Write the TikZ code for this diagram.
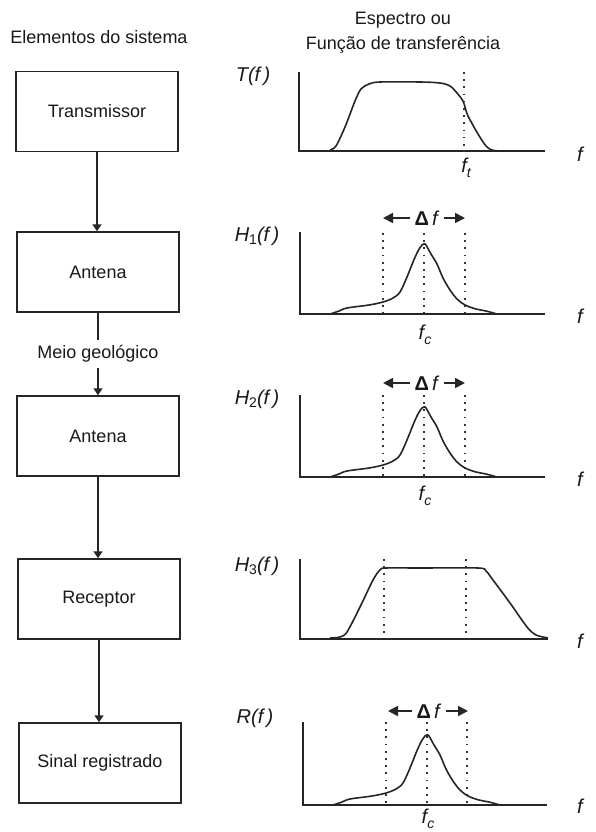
\documentclass[tikz,border=0pt]{standalone}
\usepackage{fontspec}
\setmainfont{Liberation Sans}
\usetikzlibrary{arrows.meta}
\newcommand{\lowsub}[2][4pt]{\raisebox{-#1}{\fontsize{14}{14}\selectfont #2}}
\begin{document}
\begin{tikzpicture}[x=1pt,y=-1pt,
  every node/.style={font=\fontsize{18}{21}\selectfont, inner sep=0pt, text=black!90},
  sysbox/.style={draw=black!85, line width=1.5pt, minimum width=162pt, minimum height=80pt},
  flow/.style={line width=1.6pt, draw=black!85, -{Triangle[width=9pt,length=7pt]}},
  axisline/.style={line width=2pt, draw=black!85},
  specline/.style={line width=1.6pt, draw=black!85},
  dotline/.style={line width=1.7pt, draw=black!80, dash pattern=on 1.7pt off 5.5pt},
  bw/.style={line width=1.8pt, draw=black!85, -{Triangle[width=10pt,length=10pt]}},
  lab/.style={font=\fontsize{20}{22}\selectfont\itshape},
  dflab/.style={font=\fontsize{20}{22}\selectfont, inner xsep=4pt},
  peak/.pic={\draw[specline] plot[smooth,tension=0.55] coordinates {(-94,0) (-85,-3) (-77,-6) (-55,-9) (-41,-12) (-31,-16) (-24,-22) (-17,-37) (-11,-52) (-6,-63) (-2,-69) (0,-70) (2,-69) (7,-60) (13,-50) (19,-36) (26,-24) (33,-15) (41,-9) (52,-5) (62,-3) (73,0)};}
]
\useasboundingbox (0,0) rectangle (595,832);
\fill[white] (0,0) rectangle (595,832);

% headers
\node (h1) at (99,37) {Elementos do sistema};
\node (h2) at (403,33) [align=center, font=\fontsize{18}{25}\selectfont] {Espectro ou\\Função de transferência};

% system boxes
\node[sysbox] (b1) at (97,111.5) {Transmissor};
\node[sysbox] (b2) at (98,272) {Antena};
\node[sysbox] (b3) at (98,436) {Antena};
\node[sysbox] (b4) at (99,599) {Receptor};
\node[sysbox] (b5) at (100,763) {Sinal registrado};

\draw[flow] (b1.south) -- (b1.south |- b2.north);
\draw[flow] (b2.south) -- (b2.south |- b3.north) node[midway, fill=white, inner xsep=3pt, inner ysep=6pt] (meio) {Meio geológico};
\draw[flow] (b3.south) -- (b3.south |- b4.north);
\draw[flow] (b4.south) -- (b4.south |- b5.north);

% plot 1: T(f)
\draw[dotline] (464,72) -- (464,151);
\draw[specline] plot[smooth, tension=0.5] coordinates {(330,150) (336,146) (345,127) (355,101) (361,89) (369,84) (380,82) (420,82) (440,83) (450,86) (457,93) (463,101) (465,107) (468,116) (478,134) (486,146) (492,150) (500,151)};
\draw[axisline] (299,72) -- (299,151) -- (545,151);
\node[lab] (t1) at (253,76) {T(f\,)};
\node[lab] (fx1) at (580,154) {f};
\node[lab] (ft) at (466,168) {f\lowsub[5pt]{t}};

% plot 2: H1(f)
\draw[dotline] (383,233) -- (383,314);
\draw[dotline] (424,233) -- (424,314);
\draw[dotline] (465,233) -- (465,314);
\pic at (424,314) {peak};
\draw[axisline] (300,232) -- (300,314) -- (545,314);
\node[dflab] (df1) at (427,218) {\textbf{Δ}\,\textit{f}};
\coordinate (l1) at (383,218);
\coordinate (r1) at (465,218);
\draw[bw] (df1.west) -- (l1);
\draw[bw] (df1.east) -- (r1);
\node[lab] (hl1) at (257,236) {H\lowsub[3pt]{\upshape 1}(f\,)};
\node[lab] (fx2) at (580,316) {f};
\node[lab] (fc1) at (425,335) {f\lowsub[5pt]{c}};

% plot 3: H2(f)
\draw[dotline] (383,395) -- (383,477);
\draw[dotline] (424,395) -- (424,477);
\draw[dotline] (465,395) -- (465,477);
\pic at (424,477) {peak};
\draw[axisline] (300,395) -- (300,477) -- (545,477);
\node[dflab] (df2) at (427,383) {\textbf{Δ}\,\textit{f}};
\coordinate (l2) at (383,383);
\coordinate (r2) at (465,383);
\draw[bw] (df2.west) -- (l2);
\draw[bw] (df2.east) -- (r2);
\node[lab] (hl2) at (257,399) {H\lowsub[3pt]{\upshape 2}(f\,)};
\node[lab] (fx3) at (580,479) {f};
\node[lab] (fc2) at (425,496) {f\lowsub[5pt]{c}};

% plot 4: H3(f)
\draw[dotline] (384,559) -- (384,639);
\draw[dotline] (466,559) -- (466,639);
\draw[specline] plot[smooth, tension=0.5] coordinates {(330,638) (340,637) (347,632) (360,607) (373,580) (380,570) (386,568) (420,568) (478,568) (486,571) (493,580) (510,603) (527,627) (536,635) (548,638)};
\draw[axisline] (300,559) -- (300,639) -- (548,639);
\node[lab] (hl3) at (257,566) {H\lowsub[3pt]{\upshape 3}(f\,)};
\node[lab] (fx4) at (580,641) {f};

% plot 5: R(f)
\draw[dotline] (386,722) -- (386,805);
\draw[dotline] (427,722) -- (427,805);
\draw[dotline] (467,722) -- (467,805);
\pic at (427,805) {peak};
\draw[axisline] (303,722) -- (303,805) -- (547,805);
\node[dflab] (df3) at (429,711) {\textbf{Δ}\,\textit{f}};
\coordinate (l3) at (388,711);
\coordinate (r3) at (468,711);
\draw[bw] (df3.west) -- (l3);
\draw[bw] (df3.east) -- (r3);
\node[lab] (rl) at (255,718) {R(f\,)};
\node[lab] (fx5) at (580,806) {f};
\node[lab] (fc3) at (428,819) {f\lowsub[5pt]{c}};
\end{tikzpicture}
\end{document}
